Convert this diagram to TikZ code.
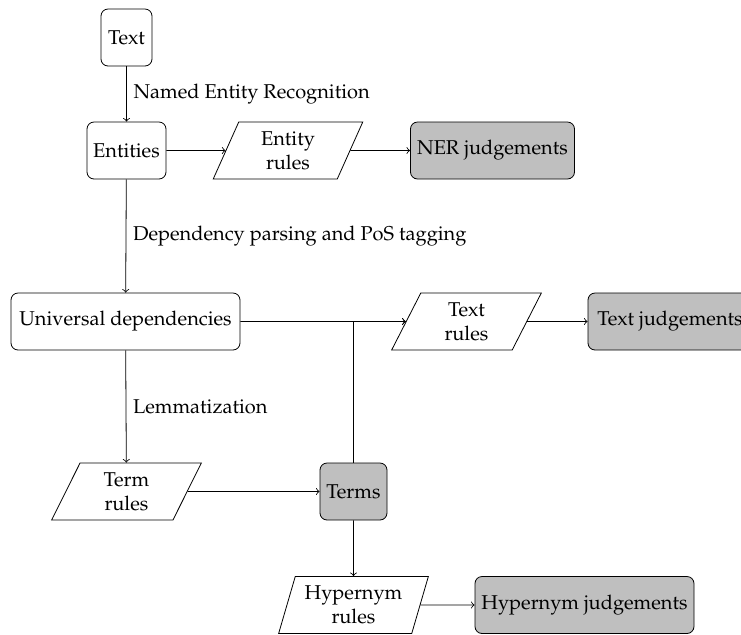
\documentclass[tikz,border=0pt]{standalone}
\usepackage[T1]{fontenc}
\usepackage{mathpazo}
\usetikzlibrary{shapes.geometric}
\begin{document}
\begin{tikzpicture}[x=0.5pt,y=-0.5pt,
  box/.style={draw, rounded corners=3.5pt, minimum height=28.5pt, inner sep=0pt},
  gbox/.style={box, fill=black!25},
  para/.style={draw, trapezium, trapezium left angle=70, trapezium right angle=110,
    trapezium stretches=true, minimum width=75pt, minimum height=28.5pt,
    align=center, inner sep=0pt},
  conn/.style={->}]
\useasboundingbox (0,0) rectangle (741,634);
\node[box, minimum width=25.5pt] (text) at (126.5,37.5) {Text};
\node[box, minimum width=39.5pt] (entities) at (126.5,150.5) {Entities};
\node[para] (entrules) at (288,150.5) {Entity\\rules};
\node[gbox, minimum width=82pt] (ner) at (492.5,150.5) {NER judgements};
\node[box, minimum width=114.5pt] (ud) at (125.5,321.5) {Universal dependencies};
\node[para] (textrules) at (466.5,321.5) {Text\\rules};
\node[gbox, minimum width=82pt] (textj) at (670,321.5) {Text judgements};
\node[para] (termrules) at (126.5,491.5) {Term\\rules};
\node[gbox, minimum width=33.5pt] (terms) at (353.5,491.5) {Terms};
\node[para] (hyprules) at (353.5,605) {Hypernym\\rules};
\node[gbox, minimum width=109.5pt] (hypj) at (584.5,605) {Hypernym judgements};

\draw[conn] (text) -- node[right] {Named Entity Recognition} (entities);
\draw[conn] (entities) -- (entrules);
\draw[conn] (entrules) -- (ner);
\draw[conn] (entities) -- node[right] {Dependency parsing and PoS tagging} (ud);
\draw[conn] (ud) -- (textrules);
\draw[conn] (textrules) -- (textj);
\draw[conn] (ud) -- node[right] {Lemmatization} (termrules);
\draw[conn] (termrules) -- (terms);
\draw[conn] (terms) |- (textrules);
\draw[conn] (terms) -- (hyprules);
\draw[conn] (hyprules) -- (hypj);
\end{tikzpicture}
\end{document}
